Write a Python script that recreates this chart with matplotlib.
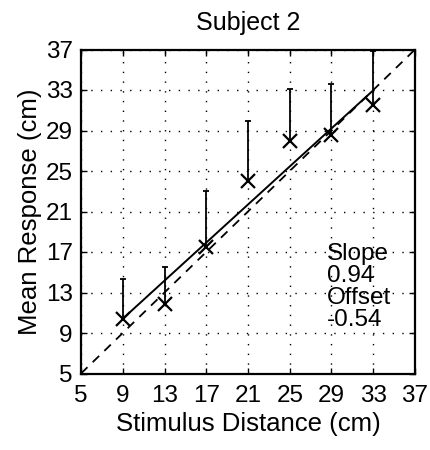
import numpy as np
import matplotlib
matplotlib.use('Agg')
import matplotlib.pyplot as plt

plt.rcParams['font.family'] = ['Liberation Sans', 'DejaVu Sans']

# Stimulus distances and mean responses (cm)
stimulus = [9, 13, 17, 21, 25, 29, 33]
mean_response = [10.4, 11.9, 17.5, 24.0, 27.95, 28.6, 31.5]
upper_error = [14.3, 15.55, 23.0, 29.95, 33.1, 33.6, 36.85]

# Linear fit drawn over the stimulus range
fit_slope = 0.94
fit_intercept = 1.95
slope_label = '0.94'
offset_label = '-0.54'

ticks = [5, 9, 13, 17, 21, 25, 29, 33, 37]

fig = plt.figure(figsize=(4.3, 4.5), dpi=100)
ax = fig.add_axes([0.1884, 0.17, 0.7767, 0.72])

# unity line
ax.plot([ticks[0], ticks[-1]], [ticks[0], ticks[-1]], color='black',
        linestyle=(0, (5, 4)), linewidth=1.3)

# fit line
fx = np.array([stimulus[0], stimulus[-1]])
ax.plot(fx, fit_slope * fx + fit_intercept, color='black', linewidth=1.4)

# one-sided error bars
ax.vlines(stimulus, mean_response, upper_error, color='black', linewidth=1.3)
ax.plot(stimulus, upper_error, linestyle='none', marker='_', markersize=5,
        color='black', markeredgewidth=1.3)

# means
ax.plot(stimulus, mean_response, linestyle='none', marker='x', markersize=10,
        color='black', markeredgewidth=1.6)

ax.set_xlim(ticks[0], ticks[-1])
ax.set_ylim(ticks[0], ticks[-1])
ax.set_xticks(ticks)
ax.set_yticks(ticks)
ax.grid(True, color='black', linestyle=(0, (1, 6)), linewidth=1.0)
ax.tick_params(direction='in', labelsize=17.5, length=4, width=1,
               top=True, right=True)
ax.tick_params(axis='y', pad=6)
ax.tick_params(axis='x', pad=8)
for s in ax.spines.values():
    s.set_linewidth(1.6)

ax.text(28.6, 17.9, 'Slope\n' + slope_label + '\nOffset\n' + offset_label,
        fontsize=17.5, va='top', ha='left', linespacing=1.0)

ax.set_title('Subject 2', fontsize=18, pad=14)
ax.set_xlabel('Stimulus Distance (cm)', fontsize=18.5, labelpad=4)
ax.set_ylabel('Mean Response (cm)', fontsize=18.5, labelpad=3)

fig.savefig('out.png', dpi=100)
plt.close()
